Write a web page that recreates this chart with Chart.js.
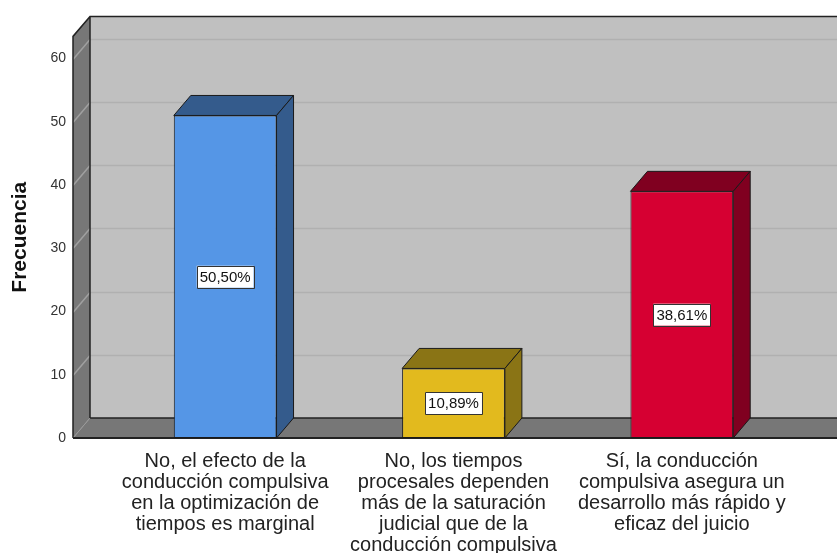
<!DOCTYPE html>
<html>
<head>
<meta charset="utf-8">
<script src="https://cdn.jsdelivr.net/npm/chart.js@4.4.1/dist/chart.umd.min.js"></script>
<style>
  html, body { margin: 0; padding: 0; background: #fff; overflow: hidden; }
  /* chart.js keeps ~52px above the plot; pull the canvas up so the plot starts where the original does */
  #wrap { width: 837px; height: 570px; margin-top: -17px; }
</style>
</head>
<body>
<div id="wrap"><canvas id="chart"></canvas></div>
<script>
const categories = [
  ["No, el efecto de la", "conducción compulsiva", "en la optimización de", "tiempos es marginal"],
  ["No, los tiempos", "procesales dependen", "más de la saturación", "judicial que de la", "conducción compulsiva"],
  ["Sí, la conducción", "compulsiva asegura un", "desarrollo más rápido y", "eficaz del juicio"]
];
const frequencies = [51, 11, 39];
const percentLabels = ["50,50%", "10,89%", "38,61%"];
const frontColors = ["#5596e6", "#e2ba1e", "#d60032"];
const shadeColors = ["#345b8c", "#8a7415", "#800020"];
const yTicks = [0, 10, 20, 30, 40, 50, 60];
const yMax = 63.5;

// fake 3d depth
const DX = 17, DY = 20, WALL = 38;

const walls = {
  id: "walls",
  beforeDatasetsDraw(chart) {
    const { ctx, chartArea: a, scales: { y } } = chart;
    const L = a.left - WALL, R = chart.width + 5, T = a.top, B = a.bottom;
    ctx.save();
    ctx.fillStyle = "#c0c0c0";
    ctx.fillRect(L + DX, T - DY, R - L - DX, B - T);
    ctx.fillStyle = "#777777";
    ctx.beginPath();
    ctx.moveTo(L, T); ctx.lineTo(L + DX, T - DY); ctx.lineTo(L + DX, B - DY); ctx.lineTo(L, B);
    ctx.closePath(); ctx.fill();
    ctx.beginPath();
    ctx.moveTo(L, B); ctx.lineTo(L + DX, B - DY); ctx.lineTo(R, B - DY); ctx.lineTo(R, B);
    ctx.closePath(); ctx.fill();

    // gridlines on back and left walls
    ctx.lineWidth = 1.5;
    y.ticks.forEach(t => {
      if (t.value === 0) return;
      const py = Math.round(y.getPixelForValue(t.value)) + 0.5;
      ctx.strokeStyle = "#b0b0b0";
      ctx.beginPath(); ctx.moveTo(L + DX, py - DY); ctx.lineTo(R, py - DY); ctx.stroke();
      ctx.strokeStyle = "#a0a0a0";
      ctx.beginPath(); ctx.moveTo(L, py); ctx.lineTo(L + DX, py - DY); ctx.stroke();
    });

    ctx.strokeStyle = "#222";
    ctx.lineWidth = 1.5;
    ctx.beginPath();
    ctx.moveTo(L, B); ctx.lineTo(L, T); ctx.lineTo(L + DX, T - DY); ctx.lineTo(R, T - DY);
    ctx.moveTo(L + DX, T - DY); ctx.lineTo(L + DX, B - DY); ctx.lineTo(R, B - DY);
    ctx.stroke();
    ctx.strokeStyle = "#999";
    ctx.lineWidth = 1;
    ctx.beginPath(); ctx.moveTo(L, B); ctx.lineTo(L + DX, B - DY); ctx.stroke();
    ctx.strokeStyle = "#222";
    ctx.lineWidth = 2;
    ctx.beginPath(); ctx.moveTo(L, B); ctx.lineTo(R, B); ctx.stroke();
    ctx.restore();
  }
};

const barFaces = {
  id: "barFaces",
  afterDatasetsDraw(chart) {
    const { ctx } = chart;
    const meta = chart.getDatasetMeta(0);
    ctx.save();
    ctx.lineWidth = 1;
    ctx.strokeStyle = "#1a1a1a";
    ctx.lineJoin = "round";
    meta.data.forEach((bar, i) => {
      const x1 = bar.x - bar.width / 2, x2 = bar.x + bar.width / 2;
      const top = bar.y, bottom = bar.base;
      ctx.fillStyle = shadeColors[i];
      ctx.beginPath();
      ctx.moveTo(x1, top); ctx.lineTo(x1 + DX, top - DY); ctx.lineTo(x2 + DX, top - DY); ctx.lineTo(x2, top);
      ctx.closePath(); ctx.fill(); ctx.stroke();
      ctx.beginPath();
      ctx.moveTo(x2, top); ctx.lineTo(x2 + DX, top - DY); ctx.lineTo(x2 + DX, bottom - DY); ctx.lineTo(x2, bottom);
      ctx.closePath(); ctx.fill(); ctx.stroke();

      // percent label
      ctx.font = "15px 'Liberation Sans', Arial, sans-serif";
      const txt = percentLabels[i];
      const w = ctx.measureText(txt).width + 6, h = 22;
      const cy = (top + bottom) / 2;
      ctx.fillStyle = "#fff";
      ctx.fillRect(bar.x - w / 2, cy - h / 2, w, h);
      ctx.strokeStyle = "#333";
      ctx.strokeRect(Math.round(bar.x - w / 2) + 0.5, Math.round(cy - h / 2) + 0.5, Math.round(w), h);
      ctx.strokeStyle = "#1a1a1a";
      ctx.fillStyle = "#111";
      ctx.textAlign = "center";
      ctx.textBaseline = "middle";
      ctx.fillText(txt, bar.x, cy + 1);
    });
    ctx.restore();
  }
};

new Chart(document.getElementById("chart"), {
  type: "bar",
  data: {
    labels: categories,
    datasets: [{
      data: frequencies,
      backgroundColor: frontColors,
      borderColor: "#1a1a1a",
      borderWidth: 1,
      borderSkipped: false,
      categoryPercentage: 1,
      barPercentage: 0.45
    }]
  },
  options: {
    responsive: true,
    maintainAspectRatio: false,
    animation: false,
    layout: { padding: { top: 18, right: 41, left: 0, bottom: 0 } },
    plugins: { legend: { display: false }, tooltip: { enabled: false } },
    scales: {
      x: {
        grid: { display: false, drawTicks: false },
        border: { display: false },
        afterFit(scale) { scale.height = 115; },
        ticks: {
          autoSkip: false,
          maxRotation: 0,
          padding: 13,
          color: "#222",
          font: { family: "'Liberation Sans', Arial, sans-serif", size: 20, lineHeight: 1.05 }
        }
      },
      y: {
        min: 0,
        max: yMax,
        grid: { display: false, drawTicks: false },
        border: { display: false },
        afterFit(scale) { scale.width = 111; },
        afterBuildTicks(scale) { scale.ticks = yTicks.map(v => ({ value: v })); },
        ticks: {
          padding: 45,
          color: "#333",
          font: { family: "'Liberation Sans', Arial, sans-serif", size: 14 }
        },
        title: {
          display: true,
          text: "Frecuencia",
          color: "#111",
          padding: { top: 8, bottom: 0 },
          font: { family: "'Liberation Sans', Arial, sans-serif", size: 21, weight: "bold" }
        }
      }
    }
  },
  plugins: [walls, barFaces]
});
</script>
</body>
</html>
